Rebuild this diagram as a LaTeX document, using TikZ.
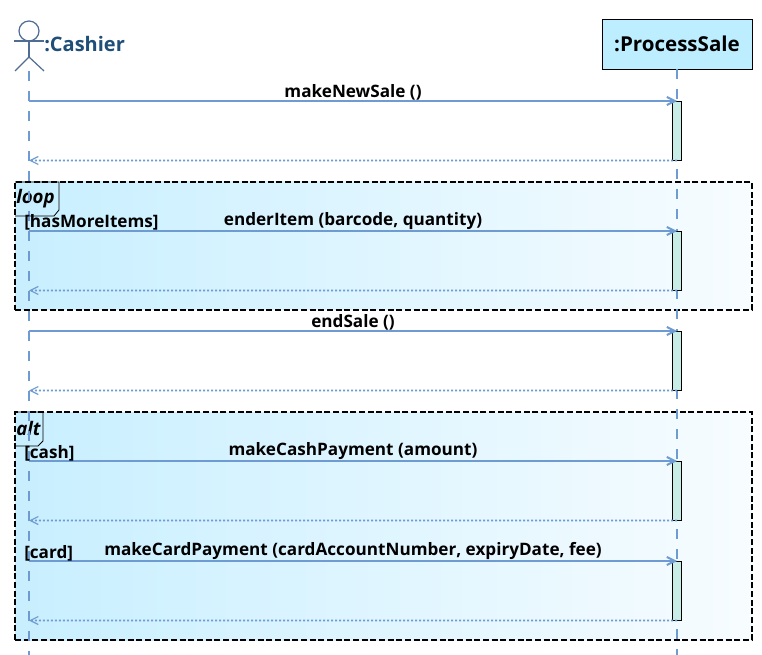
\documentclass[tikz,border=0pt]{standalone}
\usepackage{fontspec}
\setmainfont{Open Sans}
\usepackage{xcolor}
\usetikzlibrary{positioning,arrows.meta}
\definecolor{lifeblue}{HTML}{6F9BD3}
\definecolor{boxblue}{HTML}{BDEEFF}
\definecolor{actgreen}{HTML}{C8ECE6}
\definecolor{namedark}{HTML}{1F4E79}
\definecolor{fragleft}{HTML}{C8EFFF}
\definecolor{fragmid}{HTML}{E4F7FF}
\definecolor{fragright}{HTML}{F7FCFF}
\tikzset{
    lifeline/.style={lifeblue,line width=1.5pt,dash pattern=on 7.5pt off 7.5pt},
    fragment/.style={anchor=north west,inner sep=0pt,outer sep=0pt,minimum width=552.75pt,
        left color=fragleft,middle color=fragmid,right color=fragright,
        draw=black,line width=1.3pt,dash pattern=on 4.5pt off 2pt},
    activation/.style={draw=black,fill=actgreen,line width=0.6pt,inner sep=0pt,outer sep=0pt,
        minimum width=6.75pt,minimum height=44.6pt,anchor=north},
    call/.style={lifeblue,line width=1.5pt,-{Straight Barb[length=6pt,width=6pt]}},
    reply/.style={lifeblue,line width=1.3pt,dash pattern=on 1.5pt off 1.5pt,-{Straight Barb[length=6pt,width=6pt,line width=0.9pt]}},
    msg/.style={midway,above=0.1pt,inner sep=0pt,text=black,font=\fontsize{12.85}{14}\bfseries},
    guard/.style={anchor=west,inner sep=0pt,text=black,font=\fontsize{12.85}{14}\bfseries},
    tabline/.style={draw=black,line width=0.6pt},
    tabtext/.style={anchor=west,inner sep=0pt,font=\fontsize{14}{16}\bfseries\itshape},
    stick/.style={draw=lifeblue!70!black,line width=0.9pt}
}
\begin{document}
\begin{tikzpicture}[x=0.75pt,y=-0.75pt]
    \useasboundingbox (0,0) rectangle (762,655);

    \node[fragment,minimum height=96pt] (loopframe) at (15,182) {};
    \node[fragment,minimum height=171pt] (altframe) at (15,412) {};
    \draw[tabline] (loopframe.north west) -- (59,182) -- (59,210) -- (54,216) -- (15,216);
    \draw[tabline] (altframe.north west) -- (43,412) -- (43,441) -- (38,446) -- (15,446);
    \node[tabtext] (looptab) at (16,199) {loop};
    \node[tabtext] (alttab) at (16,428) {alt};

    % actor
    \draw[stick] (29,31) circle (10);
    \coordinate (neck) at (29,41);
    \coordinate (hip) at (29,57);
    \coordinate (cashier) at (29,71);
    \draw[stick] (14,41) -- (44,41);
    \draw[stick] (neck) -- (hip);
    \draw[stick] (15,71) -- (hip) -- (44,71);
    \node[anchor=west,inner sep=0pt,text=namedark,font=\fontsize{15}{16}\bfseries] (cashiername) at (44,44) {:Cashier};

    \node[draw=black,fill=boxblue,line width=0.6pt,minimum width=112.5pt,minimum height=37.5pt,inner sep=0pt,outer sep=0pt,
        font=\fontsize{15.4}{16}\bfseries] (sale) at (677,44) {:ProcessSale};

    \coordinate (cashierend) at (29,655);
    \coordinate (saleend) at (677,655);
    \draw[lifeline] (cashier) -- (cashierend);
    \draw[lifeline] (sale) ++(0,25) -- (saleend);

    \node[activation] (act1) at (677,101) {};
    \node[activation] (act2) at (677,231) {};
    \node[activation] (act3) at (677,331) {};
    \node[activation] (act4) at (677,461) {};
    \node[activation] (act5) at (677,561) {};

    \coordinate (c1) at (29,101);
    \coordinate (r1) at (29,160.5);
    \coordinate (c2) at (29,231);
    \coordinate (r2) at (29,290.5);
    \coordinate (c3) at (29,331);
    \coordinate (r3) at (29,390.5);
    \coordinate (c4) at (29,461);
    \coordinate (r4) at (29,520.5);
    \coordinate (c5) at (29,561);
    \coordinate (r5) at (29,620.5);

    \draw[call] (c1) -- node[msg] (m1) {makeNewSale ()} (act1.north);
    \draw[reply] (act1.south) -- (r1);
    \draw[call] (c2) -- node[msg] (m2) {enderItem (barcode, quantity)} (act2.north);
    \draw[reply] (act2.south) -- (r2);
    \draw[call] (c3) -- node[msg] (m3) {endSale ()} (act3.north);
    \draw[reply] (act3.south) -- (r3);
    \draw[call] (c4) -- node[msg] (m4) {makeCashPayment (amount)} (act4.north);
    \draw[reply] (act4.south) -- (r4);
    \draw[call] (c5) -- node[msg] (m5) {makeCardPayment (cardAccountNumber, expiryDate, fee)} (act5.north);
    \draw[reply] (act5.south) -- (r5);

    \node[guard] (g1) at (24,222.5) {[hasMoreItems]};
    \node[guard] (g2) at (24,453) {[cash]};
    \node[guard] (g3) at (24,553) {[card]};
\end{tikzpicture}
\end{document}
